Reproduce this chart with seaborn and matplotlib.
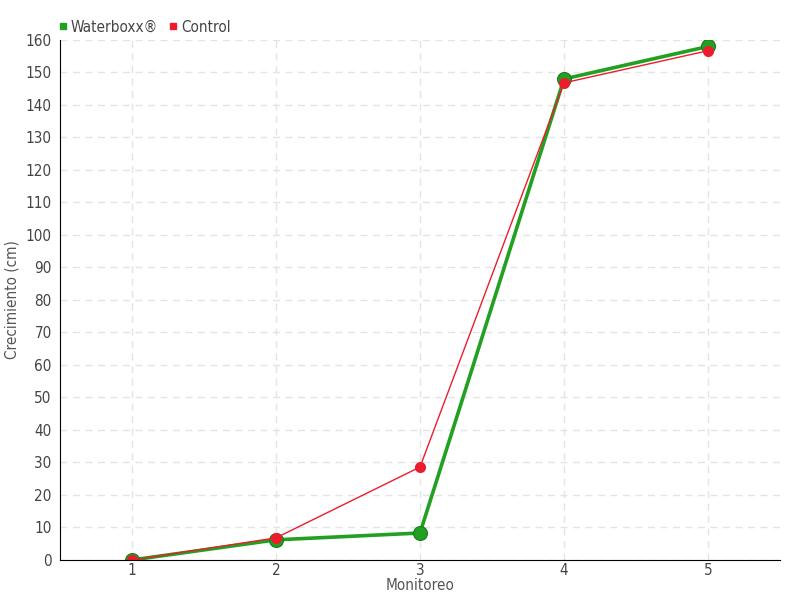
import matplotlib
matplotlib.use("Agg")
import matplotlib.pyplot as plt
import seaborn as sns
import pandas as pd

# data
monitoreo = [1, 2, 3, 4, 5]
waterboxx = [0, 6.2, 8.3, 148, 158]
control = [0, 6.8, 28.6, 146.8, 156.7]

green = "#22a022"
dark_green = "#1a7a1a"
red = "#ec1c2c"

sns.set_style("white")
plt.rcParams['font.family'] = ['DejaVu Sans']
plt.rcParams['font.stretch'] = 'condensed'

df = pd.DataFrame({
    'Monitoreo': monitoreo * 2,
    'Crecimiento': waterboxx + control,
    'Serie': ['Waterboxx®'] * 5 + ['Control'] * 5,
})

fig = plt.figure(figsize=(8, 6), dpi=100)
ax = fig.add_axes([0.075, 0.0667, 0.9, 0.8667])

# dashed grid behind the lines
ax.grid(True, color="#e4e4e4", linestyle=(0, (5, 4)), linewidth=1)
ax.set_axisbelow(True)

sns.lineplot(
    data=df[df['Serie'] == 'Waterboxx®'],
    x='Monitoreo', y='Crecimiento',
    color=green, linewidth=2.6, marker='o', markersize=10,
    markeredgewidth=0.8, markeredgecolor=dark_green, ax=ax, legend=False
)
sns.lineplot(
    data=df[df['Serie'] == 'Control'],
    x='Monitoreo', y='Crecimiento',
    color=red, linewidth=1, marker='o', markersize=8,
    markeredgewidth=0, ax=ax, legend=False
)

ax.set_xlim(0.5, 5.5)
ax.set_ylim(0, 160)
ax.set_xticks(monitoreo)
ax.set_yticks(range(0, 161, 10))

ax.set_xlabel("Monitoreo", fontsize=11, color="#555555", labelpad=0)
ax.set_ylabel("Crecimiento (cm)", fontsize=11, color="#555555", labelpad=4)

ax.tick_params(axis='x', direction='inout', length=6, width=1, color="black",
               labelcolor="#444444", labelsize=11, pad=-1)
ax.tick_params(axis='y', direction='inout', length=8, width=1, color="black",
               labelcolor="#444444", labelsize=11, pad=2)

sns.despine(ax=ax, top=True, right=True)
ax.spines['left'].set_color("black")
ax.spines['bottom'].set_color("black")

# legend at the top-left, small square markers
handles = [
    plt.Line2D([], [], linestyle='none', marker='s', markersize=5, color=green),
    plt.Line2D([], [], linestyle='none', marker='s', markersize=5, color=red),
]
fig.legend(handles, ['Waterboxx®', 'Control'], loc='upper left',
           bbox_to_anchor=(0.052, 0.99), ncol=2, frameon=False,
           handletextpad=0.0, columnspacing=0.5, handlelength=1.0,
           fontsize=11, labelcolor="#444444")

fig.savefig("out.png", dpi=100)
